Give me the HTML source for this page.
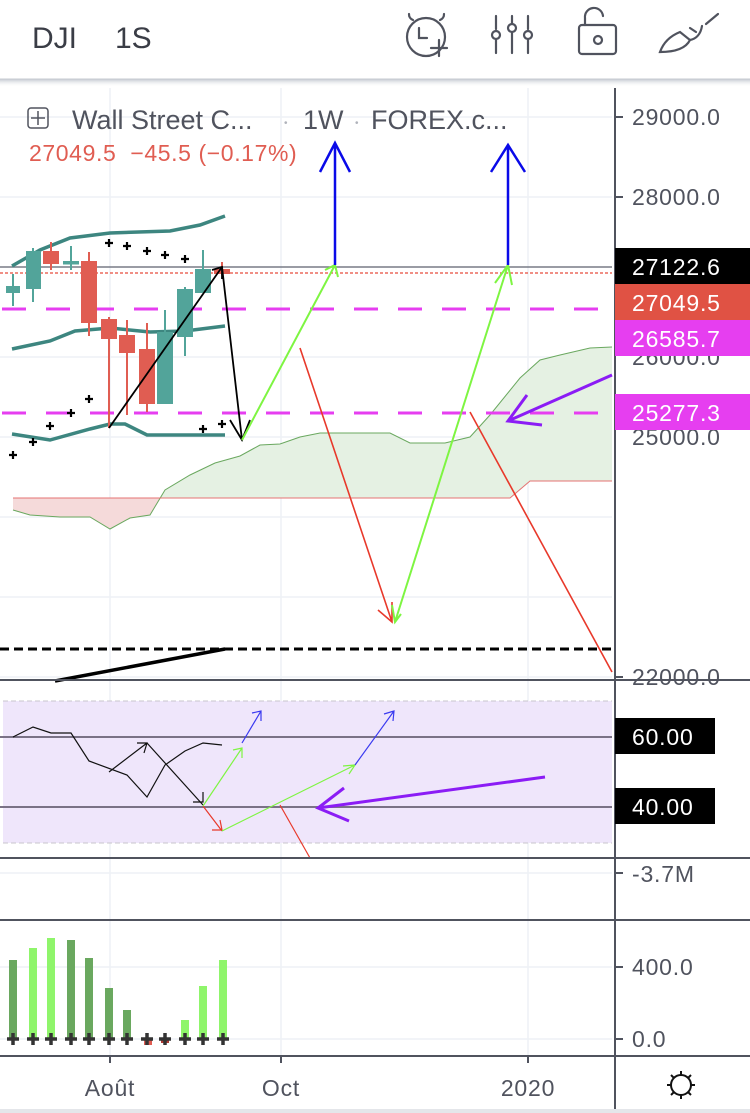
<!DOCTYPE html>
<html><head><meta charset="utf-8"><style>
html,body{margin:0;padding:0;background:#fff;width:750px;height:1113px;overflow:hidden}
svg{display:block;font-family:"Liberation Sans",sans-serif}
.ax{font-size:23px;letter-spacing:0.8px}
</style></head><body>
<svg width="750" height="1113" viewBox="0 0 750 1113" xmlns="http://www.w3.org/2000/svg">
<defs>
<linearGradient id="sh" x1="0" y1="0" x2="0" y2="1"><stop offset="0" stop-color="#9aa3b0" stop-opacity="0.6"/><stop offset="1" stop-color="#fff" stop-opacity="0"/></linearGradient>
</defs>
<!-- header -->
<text x="32" y="48" font-size="30" fill="#3a3d46">DJI</text>
<text x="115" y="48" font-size="30" fill="#3a3d46">1S</text>
<g fill="none" stroke="#50535e" stroke-width="2.2" stroke-linecap="round">
<circle cx="426" cy="37" r="19"/><path d="M413 20a6 6 0 0 1 -4 -6 M440 20a6 6 0 0 0 4 -6"/><path d="M419 28v10h8 M439 40v16 M431 48h16"/>
<path d="M496 16v13 M496 40v13 M512 16v7 M512 33v20 M528 16v13 M528 40v13"/><circle cx="496" cy="35" r="4"/><circle cx="512" cy="28" r="4"/><circle cx="528" cy="35" r="4"/>
<rect x="579" y="25" width="37" height="29" rx="3"/><path d="M585 25v-7a9 9 0 0 1 18 -2"/><circle cx="598" cy="40" r="4"/>
<path d="M660 52q5 -14 20 -20l10 8q-6 12 -30 12z M690 40q10 -2 12 -14 M690 28l6 4 M706 24l12 -10"/>
</g>
<rect x="0" y="79" width="750" height="8" fill="url(#sh)"/>
<line x1="0" y1="79" x2="750" y2="79" stroke="#c7cbd2"/>
<!-- grid -->
<g stroke="#eef1f5" stroke-width="1.5">
<line x1="110" y1="88" x2="110" y2="1056"/><line x1="281" y1="88" x2="281" y2="1056"/><line x1="528" y1="88" x2="528" y2="1056"/>
<line x1="0" y1="117" x2="612" y2="117"/><line x1="0" y1="197" x2="612" y2="197"/><line x1="0" y1="357" x2="612" y2="357"/><line x1="0" y1="437" x2="612" y2="437"/><line x1="0" y1="517" x2="612" y2="517"/><line x1="0" y1="597" x2="612" y2="597"/><line x1="0" y1="677" x2="612" y2="677"/>
<line x1="0" y1="873" x2="612" y2="873"/><line x1="0" y1="967" x2="612" y2="967"/><line x1="0" y1="1039" x2="612" y2="1039"/>
</g>
<!-- cloud -->
<polygon points="13,498 160,498 150,515 130,518 110,529 90,517 60,517 30,515 13,510" fill="#f5dada"/>
<polygon points="150,515 165,490 190,475 215,463 240,456 260,445 280,444 300,437 320,433 390,433 410,443 445,443 470,437 490,415 520,378 540,360 560,355 590,348 612,347 612,481 530,481 510,498 160,498" fill="#e5f1e3"/>
<polyline points="13,510 30,515 60,517 90,517 110,529 130,518 150,515 165,490 190,475 215,463 240,456 260,445 280,444 300,437 320,433 390,433 410,443 445,443 470,437 490,415 520,378 540,360 560,355 590,348 612,347" fill="none" stroke="#6aa85f" stroke-width="1"/>
<polyline points="13,498 510,498 530,481 612,481" fill="none" stroke="#e57373" stroke-width="1"/>
<!-- levels -->
<line x1="0" y1="267" x2="612" y2="267" stroke="#787b86" stroke-width="1.5"/>
<line x1="0" y1="273" x2="612" y2="273" stroke="#e74c3c" stroke-width="1.3" stroke-dasharray="3,2"/>
<line x1="2" y1="309" x2="612" y2="309" stroke="#e63ef0" stroke-width="3" stroke-dasharray="24,20"/>
<line x1="2" y1="413" x2="612" y2="413" stroke="#e63ef0" stroke-width="3" stroke-dasharray="24,20"/>
<line x1="0" y1="649" x2="612" y2="649" stroke="#000" stroke-width="3" stroke-dasharray="9,5"/>
<line x1="55" y1="681" x2="225" y2="649" stroke="#000" stroke-width="3.5"/>
<!-- bollinger -->
<g fill="none" stroke="#3d8680" stroke-width="3.5">
<polyline points="12,266 40,250 70,238 110,233 170,231 200,225 225,216"/>
<polyline points="12,349 50,341 75,331 110,328 150,332 185,331 225,326"/>
<polyline points="12,434 50,440 90,429 110,424 125,424 147,435 225,435"/>
</g>
<!-- candles -->
<g stroke-width="2">
<g stroke="#52a49a" fill="#52a49a">
<line x1="13" y1="274" x2="13" y2="306"/><rect x="7" y="287" width="12" height="5"/>
<line x1="33" y1="248" x2="33" y2="302"/><rect x="27" y="252" width="13" height="36"/>
<line x1="71" y1="246" x2="71" y2="270"/><rect x="64" y="262" width="14" height="1.5"/>
<line x1="165" y1="310" x2="165" y2="403"/><rect x="158" y="333" width="14" height="70"/>
<line x1="185" y1="287" x2="185" y2="356"/><rect x="178" y="290" width="14" height="46"/>
<line x1="203" y1="250" x2="203" y2="292"/><rect x="196" y="270" width="14" height="22"/>
</g>
<g stroke="#e05d52" fill="#e05d52">
<line x1="51" y1="242" x2="51" y2="270"/><rect x="44" y="252" width="14" height="11"/>
<line x1="89" y1="252" x2="89" y2="336"/><rect x="82" y="262" width="14" height="60"/>
<line x1="109" y1="317" x2="109" y2="428"/><rect x="102" y="320" width="14" height="18"/>
<line x1="127" y1="320" x2="127" y2="415"/><rect x="120" y="336" width="14" height="16"/>
<line x1="147" y1="323" x2="147" y2="412"/><rect x="140" y="350" width="14" height="53"/>
<line x1="222" y1="262" x2="222" y2="275"/><rect x="215" y="270" width="14" height="3"/>
</g>
</g>
<!-- psar -->
<g stroke="#000" stroke-width="2.2">
<path d="M9 455h8M13 451v8 M29 442h8M33 438v8 M46 426h8M50 422v8 M67 413h8M71 409v8 M85 399h8M89 395v8 M105 243h8M109 239v8 M123 246h8M127 242v8 M143 251h8M147 247v8 M161 255h8M165 251v8 M181 259h8M185 255v8 M199 429h8M203 425v8 M218 424h8M222 420v8"/>
</g>
<!-- drawings -->
<g fill="none" stroke-width="2">
<path d="M109 428L222 267M212 270l10 -3 0 12" stroke="#000" stroke-width="1.8"/>
<path d="M222 267L242 440M230 420l12 20 8 -20" stroke="#000" stroke-width="1.8"/>
<path d="M242 440L335 265M325 270l10 -5 3 12" stroke="#7ef542"/>
<path d="M335 265V143M320 172l15 -29 15 29" stroke="#0a0ae8" stroke-width="2.5"/>
<path d="M300 348L392 622M378 610l14 12 0 -20" stroke="#e8392b" stroke-width="1.6"/>
<path d="M395 622L508 265M392 605l3 17 6 -8 M495 283l13 -18 4 20" stroke="#7ef542"/>
<path d="M508 265V145M491 172l17 -27 17 27" stroke="#0a0ae8" stroke-width="2.5"/>
<path d="M470 412L612 672" stroke="#e8392b" stroke-width="1.6"/>
<path d="M612 375L508 421M527 395l-19 26 34 4" stroke="#8b1cf5" stroke-width="3"/>
</g>
<!-- legend -->
<rect x="28" y="108" width="20" height="20" rx="3" fill="none" stroke="#50535e" stroke-width="1.5"/>
<path d="M38 111v14M31 118h14" stroke="#50535e" stroke-width="1.5"/>
<text x="72" y="129" font-size="27" fill="#50535e">Wall Street C...</text>
<text x="284" y="126" font-size="10" fill="#b0b3bb">•</text>
<text x="303" y="129" font-size="27" fill="#50535e">1W</text>
<text x="355" y="126" font-size="10" fill="#b0b3bb">•</text>
<text x="371" y="129" font-size="27" fill="#50535e">FOREX.c...</text>
<text x="29" y="161" font-size="23" fill="#e05d52" letter-spacing="0.6" xml:space="preserve">27049.5  −45.5 (−0.17%)</text>
<!-- RSI panel -->
<rect x="3" y="701" width="609" height="142" fill="#efe6fb"/>
<line x1="3" y1="701" x2="612" y2="701" stroke="#c8c5cc" stroke-dasharray="5,3"/>
<line x1="3" y1="843" x2="612" y2="843" stroke="#c8c5cc" stroke-dasharray="5,3"/>
<line x1="0" y1="737" x2="612" y2="737" stroke="#7a7286" stroke-width="2"/>
<line x1="0" y1="807" x2="612" y2="807" stroke="#7a7286" stroke-width="2"/>
<g fill="none" stroke-width="1.2">
<polyline points="13,737 33,727 51,733 71,733 89,761 127,775 147,797 165,765 185,751 203,743 222,745" stroke="#111"/>
<path d="M109 772L147 743M137 743h10l-3 10" stroke="#111"/>
<path d="M147 743L203 805M193 802h10l0 -10" stroke="#111"/>
<path d="M203 806L222 831M212 830h10l-2 -10" stroke="#e8392b"/>
<path d="M222 831L355 765M343 766l12 -1 -6 9" stroke="#7ef542"/>
<path d="M203 806L242 748M233 750l9 -2 0 10" stroke="#7ef542"/>
<path d="M242 743L261 711M252 713l9 -2 0 10" stroke="#3a3af0"/>
<path d="M355 765L394 711M384 714l10 -3 -1 10" stroke="#3a3af0"/>
<path d="M280 805L310 858" stroke="#e8392b"/>
</g>
<path d="M545 777L318 808M344 788l-26 20 31 13" fill="none" stroke="#8b1cf5" stroke-width="3"/>
<!-- volume -->
<g>
<rect x="9" y="960" width="8" height="79" fill="#6aa85f"/>
<rect x="29" y="948" width="8" height="91" fill="#8ff56b"/>
<rect x="47" y="938" width="8" height="101" fill="#8ff56b"/>
<rect x="67" y="940" width="8" height="99" fill="#6aa85f"/>
<rect x="85" y="958" width="8" height="81" fill="#6aa85f"/>
<rect x="105" y="988" width="8" height="51" fill="#6aa85f"/>
<rect x="123" y="1010" width="8" height="29" fill="#6aa85f"/>
<rect x="144" y="1039" width="8" height="6" fill="#e05d52"/>
<rect x="161" y="1039" width="8" height="4" fill="#b03a32"/>
<rect x="181" y="1020" width="8" height="19" fill="#8ff56b"/>
<rect x="199" y="986" width="8" height="53" fill="#8ff56b"/>
<rect x="219" y="960" width="8" height="79" fill="#8ff56b"/>
</g>
<g stroke="#333" stroke-width="3.5">
<path d="M7 1039h12M13 1033v12M27 1039h12M33 1033v12M45 1039h12M51 1033v12M65 1039h12M71 1033v12M83 1039h12M89 1033v12M103 1039h12M109 1033v12M121 1039h12M127 1033v12M141 1039h12M147 1033v12M159 1039h12M165 1033v12M179 1039h12M185 1033v12M197 1039h12M203 1033v12M217 1039h12M223 1033v12"/>
</g>
<!-- separators & axis -->
<g stroke="#50535e" stroke-width="2">
<line x1="0" y1="680" x2="750" y2="680"/><line x1="0" y1="858" x2="750" y2="858"/><line x1="0" y1="920" x2="750" y2="920"/><line x1="0" y1="1056" x2="750" y2="1056"/>
<line x1="615" y1="88" x2="615" y2="1113"/>
<line x1="110" y1="1056" x2="110" y2="1063"/><line x1="281" y1="1056" x2="281" y2="1063"/><line x1="528" y1="1056" x2="528" y2="1063"/>
<path d="M615 117h8M615 197h8M615 677h8M615 873h8M615 967h8M615 1039h8"/>
</g>
<g class="ax" fill="#50535e">
<text x="632" y="125">29000.0</text><text x="632" y="205">28000.0</text><text x="632" y="365">26000.0</text><text x="632" y="445">25000.0</text>
<text x="632" y="685">22000.0</text>
<text x="632" y="882">-3.7M</text><text x="632" y="975">400.0</text><text x="632" y="1047">0.0</text>
</g>
<g class="ax" fill="#fff">
<rect x="615" y="248" width="135" height="36" fill="#000"/><text x="632" y="275">27122.6</text>
<rect x="615" y="284" width="135" height="36" fill="#e05244"/><text x="632" y="311">27049.5</text>
<rect x="615" y="320" width="135" height="36" fill="#e63ef0"/><text x="632" y="347">26585.7</text>
<rect x="615" y="394" width="135" height="36" fill="#e63ef0"/><text x="632" y="421">25277.3</text>
<rect x="615" y="718" width="100" height="36" fill="#000"/><text x="632" y="745">60.00</text>
<rect x="615" y="788" width="100" height="36" fill="#000"/><text x="632" y="815">40.00</text>
</g>
<g class="ax" fill="#50535e" text-anchor="middle">
<text x="110" y="1096">Août</text><text x="281" y="1096">Oct</text><text x="528" y="1096">2020</text>
</g>
<g stroke="#111" stroke-width="2" fill="none"><circle cx="681" cy="1085" r="10"/><path d="M681 1071v4M681 1095v4M667 1085h4M691 1085h4M671 1075l3 3M688 1092l3 3M691 1075l-3 3M674 1092l-3 3"/></g>
<rect x="0" y="1109" width="750" height="4" fill="#e4e6ea"/>
</svg>
</body></html>
